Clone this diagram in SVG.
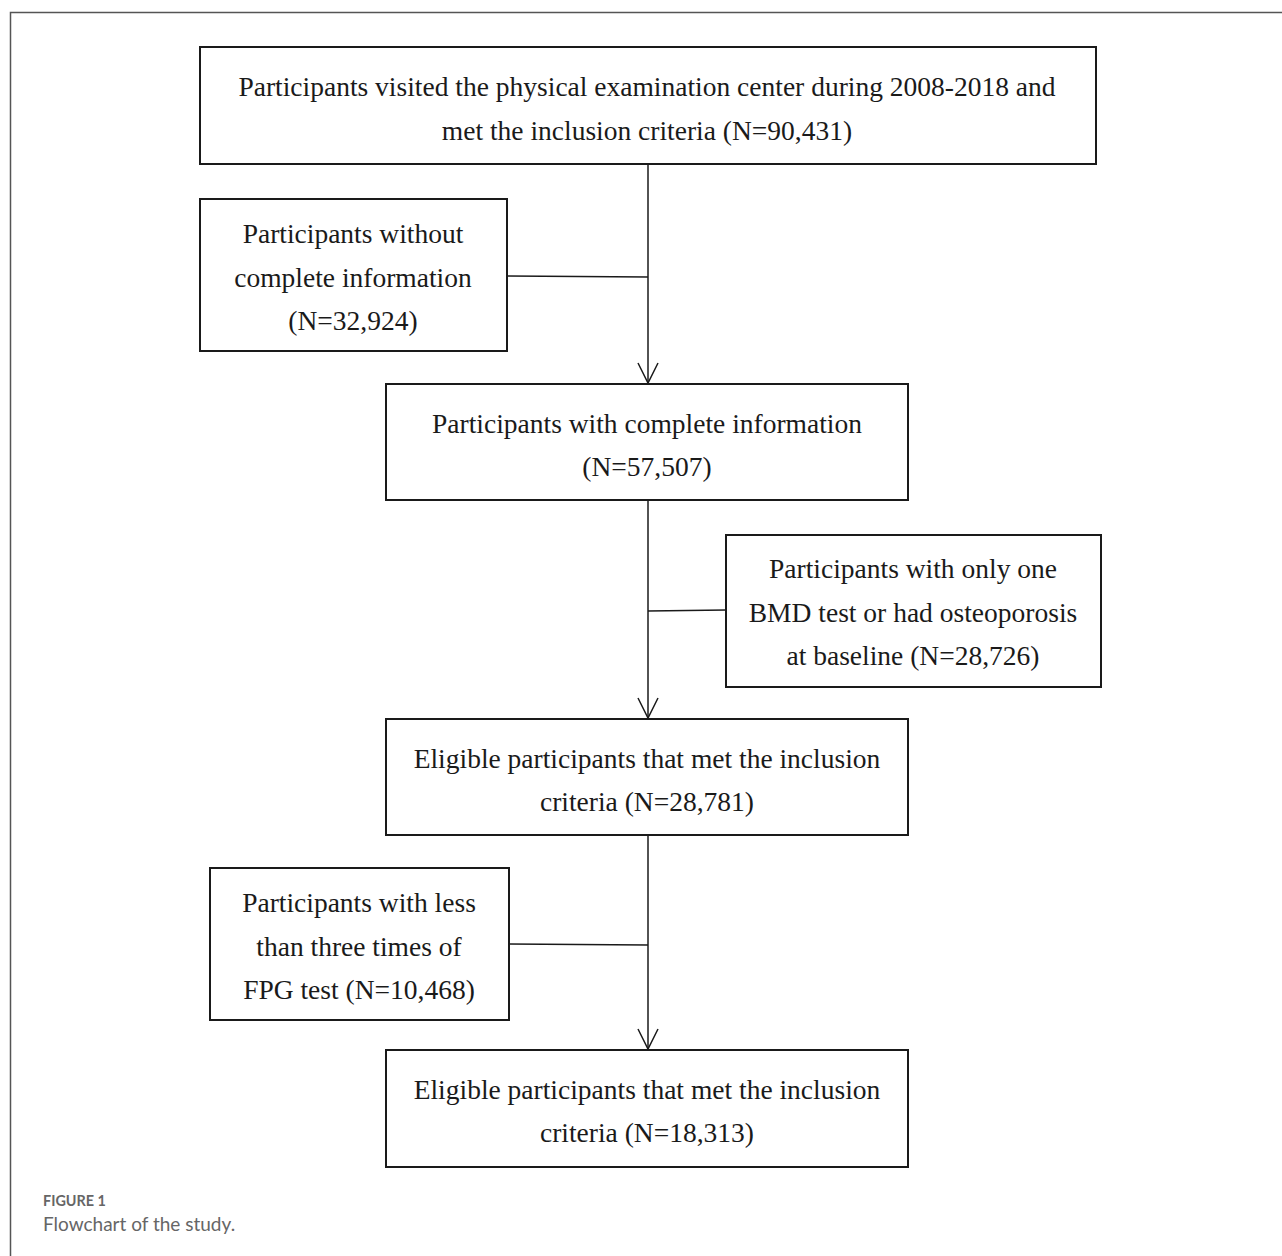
<svg xmlns="http://www.w3.org/2000/svg" width="1282" height="1256" viewBox="0 0 1282 1256">
<style>
.box{fill:#fff;stroke:#1a1a1a;stroke-width:2}
.t{font-family:"Liberation Serif","Times New Roman",serif;font-size:27.5px;fill:#1a1a1a;text-anchor:middle}
.c{stroke:#1a1a1a;stroke-width:1.5;fill:none}
.frame{stroke:#555;stroke-width:1.5;fill:none}
.cap1{font-family:Lato,"Open Sans",sans-serif;font-size:14.4px;font-weight:bold;fill:#666}
.cap2{font-family:Lato,"Open Sans",sans-serif;font-size:19px;fill:#666}
</style>
<defs>
<marker id="ah" markerWidth="24" markerHeight="24" refX="22" refY="12" orient="auto" markerUnits="userSpaceOnUse" viewBox="0 0 24 24">
<path d="M2,2 L22,12 L2,22" fill="none" stroke="#1a1a1a" stroke-width="1.5"/>
</marker>
</defs>
<rect width="1282" height="1256" fill="#fff"/>
<path class="frame" d="M10.5,1256 V12.5 H1282"/>
<g id="connectors">
<line class="c" x1="648" y1="164" x2="648" y2="383" marker-end="url(#ah)"/>
<line class="c" x1="507" y1="276" x2="648" y2="277"/>
<line class="c" x1="648" y1="500" x2="648" y2="718" marker-end="url(#ah)"/>
<line class="c" x1="648" y1="611" x2="726" y2="610"/>
<line class="c" x1="648" y1="835" x2="648" y2="1049" marker-end="url(#ah)"/>
<line class="c" x1="509" y1="944" x2="648" y2="945"/>
</g>
<g id="n1">
<rect class="box" x="200" y="47" width="896" height="117"/>
<text class="t" x="647" y="96">Participants visited the physical examination center during 2008-2018 and</text>
<text class="t" x="647" y="140">met the inclusion criteria (N=90,431)</text>
</g>
<g id="n2">
<rect class="box" x="200" y="199" width="307" height="152"/>
<text class="t" x="353" y="243">Participants without</text>
<text class="t" x="353" y="287">complete information</text>
<text class="t" x="353" y="330">(N=32,924)</text>
</g>
<g id="n3">
<rect class="box" x="386" y="384" width="522" height="116"/>
<text class="t" x="647" y="433">Participants with complete information</text>
<text class="t" x="647" y="476">(N=57,507)</text>
</g>
<g id="n4">
<rect class="box" x="726" y="535" width="375" height="152"/>
<text class="t" x="913" y="578">Participants with only one</text>
<text class="t" x="913" y="622">BMD test or had osteoporosis</text>
<text class="t" x="913" y="665">at baseline (N=28,726)</text>
</g>
<g id="n5">
<rect class="box" x="386" y="719" width="522" height="116"/>
<text class="t" x="647" y="768">Eligible participants that met the inclusion</text>
<text class="t" x="647" y="811">criteria (N=28,781)</text>
</g>
<g id="n6">
<rect class="box" x="210" y="868" width="299" height="152"/>
<text class="t" x="359" y="912">Participants with less</text>
<text class="t" x="359" y="956">than three times of</text>
<text class="t" x="359" y="999">FPG test (N=10,468)</text>
</g>
<g id="n7">
<rect class="box" x="386" y="1050" width="522" height="117"/>
<text class="t" x="647" y="1099">Eligible participants that met the inclusion</text>
<text class="t" x="647" y="1142">criteria (N=18,313)</text>
</g>
<text class="cap1" x="43" y="1206">FIGURE 1</text>
<text class="cap2" x="43" y="1231">Flowchart of the study.</text>
</svg>
